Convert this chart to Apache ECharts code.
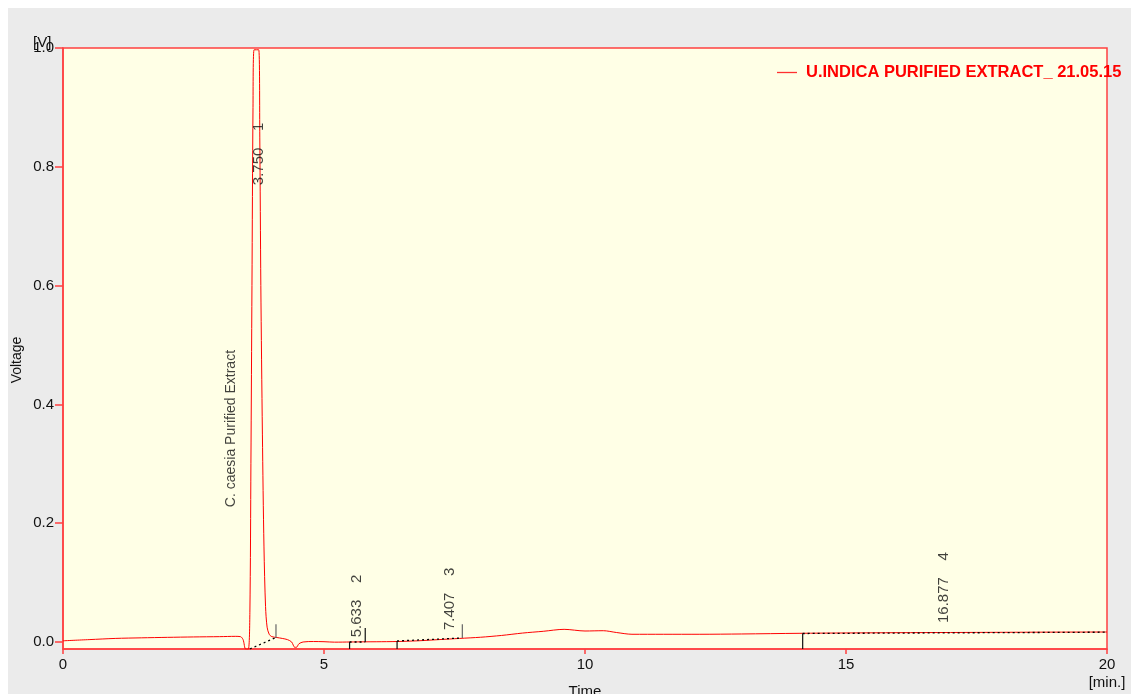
<!DOCTYPE html>
<html>
<head>
<meta charset="utf-8">
<script src="https://cdn.jsdelivr.net/npm/echarts@6/dist/echarts.min.js"></script>
<style>
html,body{margin:0;padding:0;background:#ffffff;width:1131px;height:694px;overflow:hidden;}
#chart{position:absolute;left:8px;top:8px;width:1123px;height:686px;}
</style>
</head>
<body>
<div id="chart"></div>
<script>
// ---- data ----
const seriesName = 'U.INDICA PURIFIED EXTRACT_ 21.05.15';
const timeMin = [0.0,0.5,1.0,1.5,2.0,2.5,3.0,3.3,3.40,3.45,3.50,3.55,3.58,3.60,3.62,3.64,3.66,3.75,3.77,3.79,3.82,3.85,3.88,3.91,3.95,4.0,4.1,4.2,4.3,4.38,4.44,4.47,4.52,4.6,4.8,5.0,5.2,5.5,5.8,6.0,6.4,6.8,7.2,7.6,8.0,8.4,8.8,9.2,9.6,10.0,10.35,10.6,10.9,11.5,12.2,13.0,14.1,15.0,16.0,17.0,18.0,19.0,20.0];
const voltage = [0.002,0.004,0.006,0.007,0.0078,0.0085,0.009,0.0095,0.009,0.004,-0.012,-0.012,0.05,0.3,0.6,0.9,0.997,0.997,0.85,0.6,0.35,0.16,0.06,0.025,0.013,0.009,0.0075,0.006,0.004,0.0,-0.009,-0.009,-0.003,0.0,0.0008,0.0005,-0.0003,0.0,0.0003,0.0004,0.0008,0.002,0.004,0.006,0.008,0.011,0.015,0.018,0.0213,0.0185,0.019,0.016,0.013,0.013,0.013,0.0135,0.0146,0.0152,0.0157,0.016,0.0163,0.0166,0.0168];

const xTicks = [0,5,10,15,20];
const yTicks = [0,0.2,0.4,0.6,0.8,1.0];

// peak annotations: retention time, label base voltage, peak number
const peakTimes = [3.750,5.633,7.407,16.877];
const peakLabelBase = [0.769,0.008,0.020,0.032];
const peakNumbers = [1,2,3,4];

// sample annotation
const sampleText = 'C. caesia Purified Extract';
const sampleAt = [3.22,0.227];

// integration baselines (dotted) and peak marks
const baselineSegments = [
  [[3.58,-0.0118],[4.06,0.0067]],
  [[5.49,0.0],[5.79,0.0]],
  [[6.40,0.0017],[7.64,0.0067]],
  [[14.17,0.0143],[20,0.0165]]
];
const peakMarks = [
  [[4.08,0.0067],[4.08,0.030]],
  [[5.49,-0.0118],[5.49,0.0]],
  [[5.79,0.0],[5.79,0.0236]],
  [[6.40,-0.0118],[6.40,0.0017]],
  [[7.65,0.0067],[7.65,0.030]],
  [[14.17,-0.0118],[14.17,0.0143]]
];
const markColors = ['#666','#111','#111','#111','#666','#111'];

// ---- chart ----
const chart = echarts.init(document.getElementById('chart'), null, {renderer:'canvas'});
const font = 'Liberation Sans, Arial, sans-serif';
const traceData = timeMin.map((t,i)=>[t,voltage[i]]);

const series = [{
  name: seriesName,
  type: 'line',
  data: traceData,
  smooth: 0.3,
  showSymbol: false,
  symbol: 'none',
  lineStyle: {color:'#ff0000', width:1},
  itemStyle: {color:'#ff0000'},
  z: 5,
  clip: true
}];

baselineSegments.forEach(seg=>{
  series.push({type:'line', data:seg, symbol:'none', silent:true,
    lineStyle:{color:'#000', width:1.3, type:[2,3]}, z:6});
});
peakMarks.forEach((seg,i)=>{
  series.push({type:'line', data:seg, symbol:'none', silent:true,
    lineStyle:{color:markColors[i], width:1.2}, z:6});
});

series.push({
  type:'scatter',
  silent:true,
  symbolSize:1,
  itemStyle:{color:'rgba(0,0,0,0)'},
  data: peakTimes.map((t,i)=>({value:[t,peakLabelBase[i]], name: t.toFixed(3)+'    '+peakNumbers[i]})),
  label:{show:true, position:'inside', rotate:90, align:'left', verticalAlign:'middle',
    formatter:p=>p.name, color:'#111', fontSize:15, fontFamily:font},
  z:7
});
series.push({
  type:'scatter',
  silent:true,
  symbolSize:1,
  itemStyle:{color:'rgba(0,0,0,0)'},
  data:[{value:sampleAt, name:sampleText}],
  label:{show:true, position:'inside', rotate:90, align:'left', verticalAlign:'middle',
    formatter:p=>p.name, color:'#111', fontSize:14, fontFamily:font},
  z:7
});

chart.setOption({
  backgroundColor:'#ebebeb',
  animation:false,
  textStyle:{fontFamily:font},
  grid:{left:55, top:40, right:24, bottom:45, show:true, backgroundColor:'#ffffe6', borderColor:'#ff4040', borderWidth:1.5},
  legend:{
    data:[{name:seriesName, icon:'rect', itemStyle:{color:'#ff3030', borderWidth:0}}],
    left:764, top:51, itemWidth:20, itemHeight:1.3, itemGap:8,
    textStyle:{color:'#ff0000', fontWeight:'bold', fontSize:16.5, fontFamily:font, padding:[0,0,0,4]},
    selectedMode:false
  },
  xAxis:{
    type:'value', min:0, max:20, interval:5,
    axisLine:{show:true, onZero:false, lineStyle:{color:'#ff4040', width:1.5}},
    axisTick:{show:true, length:5, lineStyle:{color:'#ff4040', width:1.5}},
    axisLabel:{color:'#111', fontSize:15, margin:8, fontFamily:font, formatter:v=>String(v)},
    splitLine:{show:false}
  },
  yAxis:{
    type:'value', min:-0.0118, max:1.0,
    axisLine:{show:true, onZero:false, lineStyle:{color:'#ff4040', width:1.5}},
    axisTick:{show:true, length:8, customValues:yTicks, lineStyle:{color:'#ff4040', width:1.5}},
    axisLabel:{color:'#111', fontSize:15, margin:9, fontFamily:font, customValues:yTicks, formatter:v=>v.toFixed(1)},
    splitLine:{show:false}
  },
  graphic:[
    {type:'text', left:25, top:27, style:{text:'[V]', fill:'#111', font:'15px '+font}, z:100},
    {type:'text', x:9, y:352, rotation:Math.PI/2, style:{text:'Voltage', fill:'#111', font:'14px '+font, align:'center', verticalAlign:'middle'}, z:100},
    {type:'text', x:577, y:676, style:{text:'Time', fill:'#111', font:'15px '+font, align:'center', verticalAlign:'top'}, z:100},
    {type:'text', x:1099, y:667, style:{text:'[min.]', fill:'#111', font:'15px '+font, align:'center', verticalAlign:'top'}, z:100}
  ],
  series: series
});
</script>
</body>
</html>
